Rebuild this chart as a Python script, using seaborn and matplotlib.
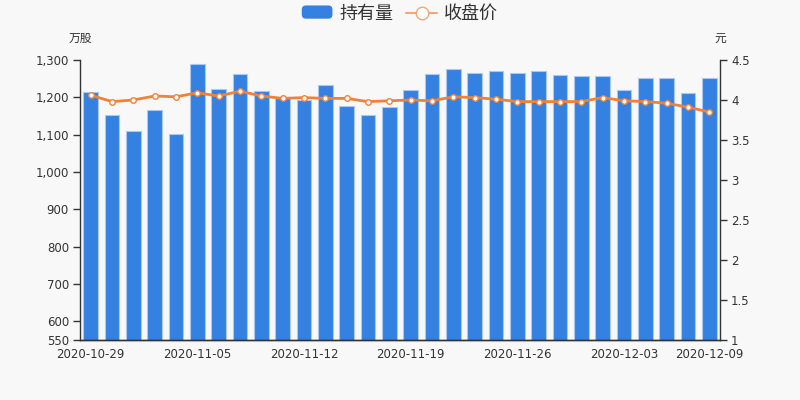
import numpy as np
import pandas as pd
import seaborn as sns
from matplotlib import pyplot as plt
from matplotlib.patches import FancyBboxPatch
from matplotlib.lines import Line2D
from matplotlib.legend_handler import HandlerPatch

dates = ['2020-10-29', '2020-10-30', '2020-11-02', '2020-11-03', '2020-11-04',
         '2020-11-05', '2020-11-06', '2020-11-09', '2020-11-10', '2020-11-11',
         '2020-11-12', '2020-11-13', '2020-11-16', '2020-11-17', '2020-11-18',
         '2020-11-19', '2020-11-20', '2020-11-23', '2020-11-24', '2020-11-25',
         '2020-11-26', '2020-11-27', '2020-11-30', '2020-12-01', '2020-12-02',
         '2020-12-03', '2020-12-04', '2020-12-07', '2020-12-08', '2020-12-09']
holdings = [1213, 1153, 1110, 1166, 1103, 1288, 1222, 1263, 1217, 1197,
            1194, 1233, 1177, 1154, 1175, 1220, 1262, 1275, 1266, 1270,
            1266, 1270, 1260, 1256, 1257, 1220, 1251, 1253, 1211, 1253]
close_price = [4.06, 3.98, 4.00, 4.05, 4.04, 4.09, 4.05, 4.11, 4.05, 4.02,
               4.03, 4.02, 4.02, 3.98, 3.99, 4.00, 3.99, 4.04, 4.03, 4.01,
               3.98, 3.98, 3.98, 3.98, 4.03, 3.99, 3.98, 3.96, 3.91, 3.85]
label_idx = [0, 5, 10, 15, 20, 25, 29]

bar_color = '#3481e2'
line_color = '#f08237'
text_color = '#333333'

sns.set_theme(style='white')
plt.rcParams['font.family'] = ['Noto Sans CJK SC', 'DejaVu Sans']

df = pd.DataFrame({'date': dates, 'holdings': holdings, 'close': close_price})
df['pos'] = np.arange(len(df))

fig = plt.figure(figsize=(8, 4), dpi=100, facecolor='#f8f8f8')
ax = fig.add_axes([0.10, 0.15, 0.80, 0.70])
ax.set_facecolor('#f8f8f8')

sns.barplot(data=df, x='pos', y='holdings', color=bar_color, saturation=1,
            width=0.7, edgecolor='#a9c8f2', linewidth=0.8, ax=ax, zorder=2)
ax.set_ylim(550, 1300)
ax.set_xlim(-0.5, len(df) - 0.5)
ax.set_yticks([550, 600, 700, 800, 900, 1000, 1100, 1200, 1300])
ax.set_yticklabels(['550', '600', '700', '800', '900', '1,000', '1,100', '1,200', '1,300'],
                   fontfamily='DejaVu Sans')
ax.set_xticks(label_idx)
ax.set_xticklabels([dates[i] for i in label_idx], fontfamily='DejaVu Sans')
ax.set_xticks([i - 0.5 for i in label_idx] + [len(df) - 0.5], minor=True)
ax.tick_params(axis='x', which='major', length=0, pad=6, labelsize=8.5, colors=text_color)
ax.tick_params(axis='x', which='minor', length=5, width=1, color=text_color, direction='out')
ax.tick_params(axis='y', length=5, width=1, color=text_color, direction='out',
               labelsize=8.5, labelcolor=text_color, left=True, pad=3)
ax.set_xlabel('')
ax.set_ylabel('')

ax2 = ax.twinx()
sns.lineplot(data=df, x='pos', y='close', color=line_color, linewidth=2,
             marker='o', markersize=4, markerfacecolor='white',
             markeredgecolor=line_color, markeredgewidth=1, ax=ax2, zorder=3)
ax2.set_ylim(1, 4.5)
ax2.set_yticks([1, 1.5, 2, 2.5, 3, 3.5, 4, 4.5])
ax2.set_yticklabels(['1', '1.5', '2', '2.5', '3', '3.5', '4', '4.5'],
                    fontfamily='DejaVu Sans')
ax2.tick_params(axis='y', length=5, width=1, color=text_color, direction='out',
                labelsize=8.5, labelcolor=text_color, right=True, pad=3)
ax2.set_ylabel('')
ax2.set_xlim(-0.5, len(df) - 0.5)

for a in (ax, ax2):
    a.spines['top'].set_visible(False)
    for s in ('left', 'right', 'bottom'):
        a.spines[s].set_color(text_color)
        a.spines[s].set_linewidth(1)
ax.spines['right'].set_visible(False)
ax2.spines['left'].set_visible(False)

fig.text(0.10, 0.903, '万股', ha='center', va='center', fontsize=8.5, color=text_color)
fig.text(0.90, 0.903, '元', ha='center', va='center', fontsize=8.5, color=text_color)


class RoundHandler(HandlerPatch):
    def create_artists(self, legend, orig, xd, yd, w, h, fontsize, trans):
        p = FancyBboxPatch((xd, yd), w, h, boxstyle='round,pad=0,rounding_size=3',
                           facecolor=bar_color, edgecolor='none', transform=trans)
        return [p]


bar_handle = FancyBboxPatch((0, 0), 1, 1, facecolor=bar_color)
line_handle = Line2D([], [], color='#f5a577', linewidth=1.5, marker='o', markersize=9,
                     markerfacecolor='white', markeredgecolor='#f5a577')
fig.legend([bar_handle, line_handle], ['持有量', '收盘价'], loc='center',
           bbox_to_anchor=(0.5, 0.965), ncol=2, frameon=False, fontsize=13,
           handler_map={FancyBboxPatch: RoundHandler()}, handlelength=1.7,
           handleheight=0.75, handletextpad=0.4, columnspacing=0.7,
           labelcolor=text_color)

fig.savefig('out.png', dpi=100, facecolor=fig.get_facecolor())
